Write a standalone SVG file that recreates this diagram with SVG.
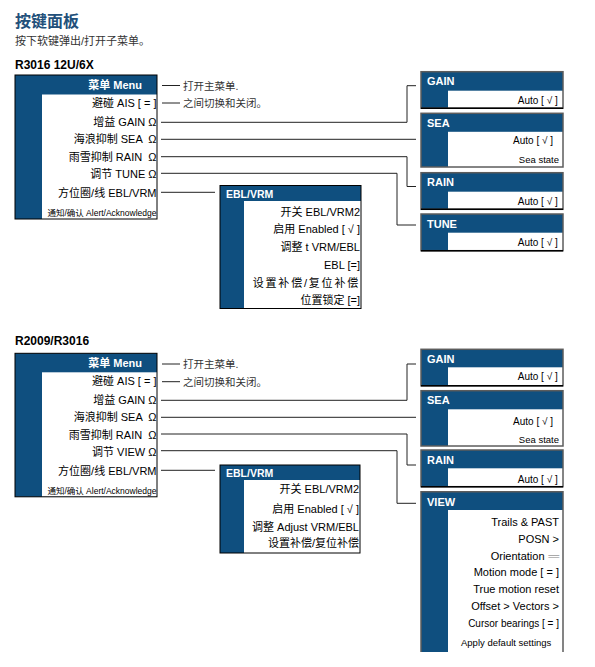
<svg xmlns="http://www.w3.org/2000/svg" width="595" height="667" viewBox="0 0 595 667">
<style>
text{font-family:"Liberation Sans","Noto Sans CJK SC",sans-serif;}
.blue{fill:#0f4f7f}
.wh{fill:#fff}
.ob{fill:none;stroke:#000;stroke-width:1}
.og{fill:none;stroke:#5c5c5c;stroke-width:1.5}
.bb{stroke:#000;stroke-width:1.5}
.ht{fill:#fff;font-weight:bold;font-size:11px}
.eh{fill:#fff;font-weight:bold;font-size:10.5px}
.it{font-size:11px;fill:#000;text-anchor:end;white-space:pre}
.sm{font-size:10px;fill:#000;text-anchor:end}
.cl{font-size:10.5px;fill:#333}
.conn{fill:none;stroke:#222;stroke-width:1}
</style>
<rect width="595" height="667" fill="#fff"/>

<g id="heading">
<text x="15" y="27" style="font-size:16px;font-weight:bold;fill:#22507a">按键面板</text>
<text x="15" y="45" style="font-size:11px;fill:#333">按下软键弹出/打开子菜单。</text>
<text x="15" y="68.5" style="font-size:12px;font-weight:bold;fill:#000">R3016 12U/6X</text>
<text x="15" y="345" style="font-size:12px;font-weight:bold;fill:#000">R2009/R3016</text>
</g>

<g id="connectors" class="conn">
<line x1="162" y1="85.5" x2="180" y2="85.5"/>
<line x1="162" y1="103" x2="180" y2="103"/>
<polyline points="161,122.3 407,122.3 407,85.7 416,85.7"/>
<line x1="161" y1="139.3" x2="416" y2="139.3"/>
<polyline points="161,156.7 407,156.7 407,186.5 416,186.5"/>
<polyline points="161,173.3 397,173.3 397,225 416,225"/>
<line x1="161" y1="192.3" x2="215" y2="192.3"/>
<line x1="162" y1="364" x2="180" y2="364"/>
<line x1="162" y1="381.7" x2="180" y2="381.7"/>
<polyline points="161,400.3 407,400.3 407,364 416,364"/>
<line x1="161" y1="417.3" x2="416" y2="417.3"/>
<polyline points="161,434 407,434 407,465 416,465"/>
<polyline points="161,450.7 397,450.7 397,503.3 416,503.3"/>
<line x1="161" y1="470.3" x2="215" y2="470.3"/>
</g>

<g id="callouts1">
<text class="cl" x="183" y="89.5">打开主菜单.</text>
<text class="cl" x="183" y="107">之间切换和关闭。</text>
</g>
<g id="callouts2">
<text class="cl" x="183" y="368">打开主菜单.</text>
<text class="cl" x="183" y="385.7">之间切换和关闭。</text>
</g>

<g id="menu1" transform="translate(15,75)">
<rect class="blue" width="142" height="144"/>
<rect class="wh" x="27" y="19.5" width="115" height="124.5"/>
<rect class="ob" width="142" height="144"/>
<text class="ht" x="127" y="14" text-anchor="end">菜单 Menu</text>
<text class="it" x="141.5" y="32">避碰 AIS [ = ]</text>
<text class="it" x="141.5" y="50.5">增益 GAIN Ω</text>
<text class="it" x="141.5" y="68" xml:space="preserve">海浪抑制 SEA  Ω</text>
<text class="it" x="141.5" y="85.5" xml:space="preserve">雨雪抑制 RAIN  Ω</text>
<text class="it" x="141.5" y="103">调节 TUNE Ω</text>
<text class="it" x="141.5" y="122">方位圈/线 EBL/VRM</text>
<text class="it" x="141.5" y="141" style="font-size:8.5px">通知/确认 Alert/Acknowledge</text>
</g>

<g id="ebl1" transform="translate(220,185.5)">
<rect class="blue" width="141" height="123"/>
<rect class="wh" x="24" y="15.5" width="117" height="107.5"/>
<rect class="ob" width="141" height="123"/>
<text class="eh" x="6" y="12">EBL/VRM</text>
<text class="it" x="140" y="30.5">开关 EBL/VRM2</text>
<text class="it" x="140" y="47.5">启用 Enabled [ √ ]</text>
<text class="it" x="140" y="65.5">调整 t VRM/EBL</text>
<text class="it" x="140" y="83.5">EBL [=]</text>
<text class="it" x="140" y="101.5" style="letter-spacing:1.8px">设置补偿/复位补偿</text>
<text class="it" x="140" y="118.5">位置锁定 [=]</text>
</g>

<g id="gain1" transform="translate(421,71.7)">
<rect class="blue" width="142" height="36.5"/>
<rect class="wh" x="27" y="19" width="115" height="17.5"/>
<rect class="og" width="142" height="36.5"/>
<line class="bb" x1="0" y1="36.5" x2="142" y2="36.5"/>
<text class="ht" x="6" y="13.8">GAIN</text>
<text class="sm" x="136.7" y="32.3">Auto [ √ ]</text>
</g>

<g id="sea1" transform="translate(421,113.3)">
<rect class="blue" width="142" height="53.7"/>
<rect class="wh" x="27" y="18.5" width="115" height="35.2"/>
<rect class="og" width="142" height="53.7"/>
<text class="ht" x="6" y="13.7">SEA</text>
<text class="sm" x="132" y="30.7">Auto [ √ ]</text>
<text class="sm" x="138" y="49.7" style="font-size:9.5px">Sea state</text>
</g>

<g id="rain1" transform="translate(421,172.7)">
<rect class="blue" width="142" height="36.6"/>
<rect class="wh" x="27" y="19" width="115" height="17.6"/>
<rect class="og" width="142" height="36.6"/>
<line class="bb" x1="0" y1="36.6" x2="142" y2="36.6"/>
<text class="ht" x="6" y="13.8">RAIN</text>
<text class="sm" x="136.7" y="32">Auto [ √ ]</text>
</g>

<g id="tune1" transform="translate(421,214)">
<rect class="blue" width="142" height="36.7"/>
<rect class="wh" x="27" y="18.7" width="115" height="18"/>
<rect class="og" width="142" height="36.7"/>
<line class="bb" x1="0" y1="36.7" x2="142" y2="36.7"/>
<text class="ht" x="6" y="13.8">TUNE</text>
<text class="sm" x="136.7" y="32">Auto [ √ ]</text>
</g>

<g id="menu2" transform="translate(15,353.3)">
<rect class="blue" width="142" height="143.5"/>
<rect class="wh" x="27" y="19" width="115" height="124.5"/>
<rect class="ob" width="142" height="143.5"/>
<text class="ht" x="127" y="14" text-anchor="end">菜单 Menu</text>
<text class="it" x="141.5" y="32">避碰 AIS [ = ]</text>
<text class="it" x="141.5" y="50.5">增益 GAIN Ω</text>
<text class="it" x="141.5" y="68" xml:space="preserve">海浪抑制 SEA  Ω</text>
<text class="it" x="141.5" y="85.5" xml:space="preserve">雨雪抑制 RAIN  Ω</text>
<text class="it" x="141.5" y="103">调节 VIEW Ω</text>
<text class="it" x="141.5" y="122">方位圈/线 EBL/VRM</text>
<text class="it" x="141.5" y="140.5" style="font-size:8.5px">通知/确认 Alert/Acknowledge</text>
</g>

<g id="ebl2" transform="translate(220,465)">
<rect class="blue" width="140" height="88"/>
<rect class="wh" x="24" y="15" width="116" height="73"/>
<rect class="ob" width="140" height="88"/>
<text class="eh" x="6" y="11.8">EBL/VRM</text>
<text class="it" x="139" y="28">开关 EBL/VRM2</text>
<text class="it" x="139" y="48">启用 Enabled [ √ ]</text>
<text class="it" x="139" y="66">调整 Adjust VRM/EBL</text>
<text class="it" x="139" y="82">设置补偿/复位补偿</text>
</g>

<g id="gain2" transform="translate(421,349.3)">
<rect class="blue" width="142" height="36.5"/>
<rect class="wh" x="27" y="18" width="115" height="18.5"/>
<rect class="og" width="142" height="36.5"/>
<line class="bb" x1="0" y1="36.5" x2="142" y2="36.5"/>
<text class="ht" x="6" y="13.5">GAIN</text>
<text class="sm" x="136.7" y="31">Auto [ √ ]</text>
</g>

<g id="sea2" transform="translate(421,390.7)">
<rect class="blue" width="142" height="55.3"/>
<rect class="wh" x="27" y="18.6" width="115" height="36.7"/>
<rect class="og" width="142" height="55.3"/>
<text class="ht" x="6" y="13.7">SEA</text>
<text class="sm" x="132" y="34.5">Auto [ √ ]</text>
<text class="sm" x="138" y="52.5" style="font-size:9.5px">Sea state</text>
</g>

<g id="rain2" transform="translate(421,450)">
<rect class="blue" width="142" height="36.7"/>
<rect class="wh" x="27" y="18.3" width="115" height="18.4"/>
<rect class="og" width="142" height="36.7"/>
<line class="bb" x1="0" y1="36.7" x2="142" y2="36.7"/>
<text class="ht" x="6" y="13.8">RAIN</text>
<text class="sm" x="136.7" y="33">Auto [ √ ]</text>
</g>

<g id="view2" transform="translate(421,491.7)">
<rect class="blue" width="142" height="160.3"/>
<rect class="wh" x="27" y="18.3" width="115" height="142"/>
<path class="og" d="M0,160.3 V0 H142 V160.3"/>
<text class="ht" x="6" y="14">VIEW</text>
<text class="it" x="138" y="34.3">Trails &amp; PAST</text>
<text class="it" x="138" y="51.3">POSN &gt;</text>
<text class="it" x="123.5" y="68.3">Orientation</text>
<text x="127.5" y="68.3" textLength="10.5" lengthAdjust="spacingAndGlyphs" style="font-family:'DejaVu Sans',sans-serif;font-size:11px;fill:#aaa">═</text>
<text class="it" x="138" y="84.3">Motion mode [ = ]</text>
<text class="it" x="138" y="101.3">True motion reset</text>
<text class="it" x="138" y="118.3">Offset &gt; Vectors &gt;</text>
<text class="sm" x="138" y="135.8">Cursor bearings [ = ]</text>
<text x="40" y="154.8" style="font-size:9.5px;fill:#000">Apply default settings</text>
</g>
</svg>
